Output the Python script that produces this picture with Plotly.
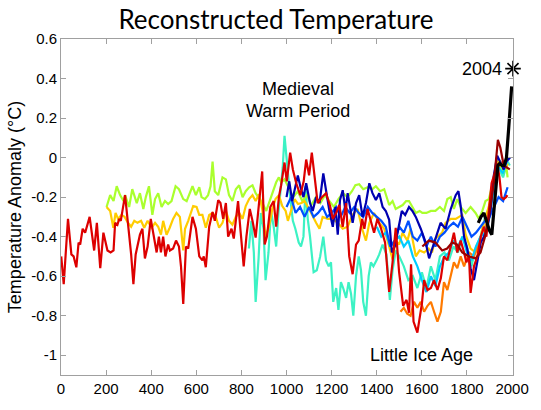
import plotly.graph_objects as go

# ---------------- data ----------------
red_years = [1, 12, 31, 46, 56, 68, 78, 85, 96, 107, 127, 134, 147, 159, 174, 188, 206, 220, 233, 240,
             250, 258, 265, 284, 296, 311, 321, 331, 350, 361, 372, 384, 398, 412, 424, 434, 443, 453, 463, 475,
             483, 497, 510, 523, 532, 542, 554, 564, 583, 598, 613, 627, 633, 642, 657, 672, 682, 697, 707, 719,
             731, 741, 756, 766, 785, 796, 810, 822, 837, 849, 863, 878, 892, 903, 913, 928, 943, 954, 966, 976,
             991, 1001, 1016, 1028, 1043, 1061, 1076, 1087, 1100, 1112, 1124, 1138, 1157, 1175, 1193, 1205, 1220, 1234, 1249, 1264,
             1278, 1293, 1308, 1320, 1335, 1345, 1359, 1374, 1388, 1403, 1418, 1437, 1455, 1470, 1484, 1499, 1517, 1532, 1543, 1552,
             1563, 1580, 1600, 1610, 1625, 1640, 1654, 1669, 1684, 1698, 1713, 1728, 1742, 1757, 1772, 1787, 1797, 1809, 1816, 1831,
             1846, 1861, 1875, 1886, 1897, 1909, 1923, 1934, 1944, 1953, 1963, 1974, 1979]
red_vals = [-0.50, -0.64, -0.31, -0.49, -0.50, -0.555, -0.43, -0.44, -0.36, -0.38, -0.30, -0.36, -0.47, -0.33, -0.56, -0.38, -0.47, -0.48, -0.47, -0.33,
            -0.34, -0.31, -0.32, -0.19, -0.31, -0.49, -0.64, -0.49, -0.39, -0.36, -0.51, -0.45, -0.31, -0.40, -0.48, -0.40, -0.48, -0.40, -0.50, -0.44,
            -0.47, -0.46, -0.42, -0.45, -0.55, -0.74, -0.45, -0.46, -0.30, -0.36, -0.50, -0.52, -0.50, -0.555, -0.35, -0.275, -0.32, -0.215, -0.23, -0.31,
            -0.23, -0.40, -0.36, -0.41, -0.22, -0.37, -0.55, -0.40, -0.26, -0.32, -0.405, -0.23, -0.07, -0.44, -0.40, -0.25, -0.22, -0.35, -0.20, -0.14,
            -0.025, -0.12, 0.025, -0.06, -0.13, -0.19, -0.12, -0.01, -0.09, 0.025, -0.09, -0.23, -0.20, -0.18, -0.245, -0.31, -0.28, -0.24, -0.35, -0.23,
            -0.50, -0.59, -0.44, -0.42, -0.31, -0.36, -0.26, -0.33, -0.38, -0.31, -0.355, -0.43, -0.68, -0.53, -0.355, -0.58, -0.75, -0.72, -0.785, -0.54,
            -0.83, -0.885, -0.74, -0.62, -0.67, -0.66, -0.62, -0.67, -0.61, -0.50, -0.52, -0.45, -0.38, -0.48, -0.42, -0.48, -0.53, -0.50, -0.685, -0.55,
            -0.50, -0.40, -0.35, -0.40, -0.28, -0.13, -0.08, -0.03, -0.10, -0.20, -0.21, -0.20, -0.19]

ygreen_years = [202, 218, 233, 247, 262, 277, 284, 302, 316, 336, 350, 365, 376, 390, 405, 417, 431, 446, 461, 475,
                490, 508, 523, 542, 557, 568, 583, 598, 613, 623, 638, 652, 663, 672, 682, 697, 716, 731, 745, 760,
                775, 790, 805, 819, 834, 849, 863, 881, 895, 910, 925, 940, 954, 966, 976, 991, 1010, 1030, 1050, 1070,
                1090, 1110, 1130, 1150, 1170, 1190, 1210, 1230, 1250, 1270, 1290, 1305, 1322, 1340, 1360, 1380, 1396, 1415, 1433, 1455,
                1470, 1484, 1499, 1515, 1530, 1543, 1558, 1573, 1590, 1602, 1620, 1640, 1660, 1680, 1698, 1713, 1728, 1742, 1757, 1772,
                1794, 1816, 1838, 1853, 1868, 1882, 1897, 1912, 1930, 1945, 1960, 1975, 1980]
ygreen_vals = [-0.25, -0.19, -0.22, -0.145, -0.19, -0.22, -0.19, -0.25, -0.16, -0.23, -0.18, -0.26, -0.20, -0.145, -0.29, -0.21, -0.18, -0.25, -0.22, -0.235,
               -0.22, -0.145, -0.16, -0.21, -0.22, -0.19, -0.145, -0.19, -0.15, -0.20, -0.21, -0.19, -0.145, -0.02, -0.17, -0.19, -0.10, -0.11, -0.19, -0.22,
               -0.16, -0.14, -0.20, -0.17, -0.15, -0.14, -0.18, -0.21, -0.235, -0.27, -0.22, -0.18, -0.125, -0.10, -0.125, -0.11, -0.15, -0.20, -0.17, -0.22,
               -0.19, -0.24, -0.20, -0.23, -0.19, -0.22, -0.25, -0.21, -0.18, -0.20, -0.17, -0.14, -0.135, -0.16, -0.15, -0.16, -0.145, -0.17, -0.16, -0.24,
               -0.22, -0.26, -0.25, -0.24, -0.22, -0.22, -0.25, -0.28, -0.27, -0.28, -0.28, -0.27, -0.27, -0.25, -0.27, -0.21, -0.20, -0.26, -0.21, -0.25,
               -0.28, -0.25, -0.28, -0.31, -0.27, -0.22, -0.21, -0.14, -0.08, -0.03, -0.08, -0.05, -0.10]

yellow_years = [202, 218, 232, 242, 253, 268, 282, 297, 311, 325, 339, 355, 369, 384, 402, 417, 431, 443, 453, 468,
                482, 497, 512, 527, 542, 550, 564, 586, 601, 613, 627, 642, 657, 672, 686, 701, 716, 731, 745, 760,
                775, 790, 805, 819, 834, 849, 863, 878, 892, 907, 922, 937, 951, 966, 981, 996, 1006, 1021, 1036, 1051,
                1066, 1080, 1095, 1109, 1131, 1146, 1160, 1183, 1205, 1227, 1249, 1271, 1293, 1315, 1335, 1352, 1367, 1388, 1411, 1433,
                1455, 1470, 1484, 1499, 1514, 1536, 1550, 1573, 1590, 1610, 1630, 1645, 1660, 1690, 1705, 1728, 1750, 1779, 1794, 1816,
                1838, 1853, 1868, 1882, 1897, 1912, 1927, 1941, 1956, 1974, 1980]
yellow_vals = [-0.25, -0.27, -0.355, -0.28, -0.31, -0.29, -0.30, -0.33, -0.35, -0.32, -0.33, -0.32, -0.355, -0.32, -0.355, -0.33, -0.35, -0.39, -0.32, -0.39,
               -0.355, -0.31, -0.28, -0.30, -0.47, -0.36, -0.32, -0.245, -0.25, -0.29, -0.29, -0.355, -0.29, -0.28, -0.30, -0.355, -0.33, -0.27, -0.32, -0.34,
               -0.30, -0.28, -0.31, -0.245, -0.21, -0.19, -0.22, -0.185, -0.26, -0.40, -0.35, -0.26, -0.21, -0.19, -0.245, -0.27, -0.32, -0.26, -0.21, -0.235,
               -0.23, -0.22, -0.25, -0.28, -0.33, -0.36, -0.30, -0.31, -0.31, -0.33, -0.36, -0.35, -0.29, -0.26, -0.36, -0.42, -0.33, -0.28, -0.33, -0.36,
               -0.45, -0.515, -0.42, -0.44, -0.38, -0.42, -0.36, -0.50, -0.47, -0.48, -0.46, -0.48, -0.41, -0.38, -0.33, -0.31, -0.31, -0.29, -0.39, -0.46,
               -0.48, -0.45, -0.36, -0.31, -0.245, -0.16, -0.06, -0.01, -0.035, -0.05, -0.03]

aqua_years = [833, 844, 855, 863, 876, 886, 898, 907, 920, 931, 943, 954, 964, 975, 983, 991, 1001, 1016, 1028, 1039,
              1054, 1064, 1075, 1084, 1094, 1104, 1120, 1134, 1149, 1163, 1175, 1187, 1197, 1207, 1220, 1230, 1241, 1251, 1264, 1275,
              1286, 1296, 1308, 1320, 1330, 1340, 1352, 1364, 1374, 1385, 1399, 1411, 1426, 1443, 1458, 1470, 1484, 1500, 1520, 1540,
              1560, 1580, 1600, 1620, 1640, 1660, 1680, 1700, 1720, 1740, 1760, 1780, 1800, 1820, 1840, 1860, 1880, 1900, 1920, 1940,
              1960, 1980, 1990]
aqua_vals = [-0.46, -0.32, -0.48, -0.73, -0.51, -0.28, -0.36, -0.62, -0.48, -0.27, -0.35, -0.45, -0.28, -0.16, -0.05, 0.11, -0.03, -0.20, -0.32, -0.36,
             -0.43, -0.45, -0.40, -0.145, -0.31, -0.40, -0.58, -0.57, -0.50, -0.40, -0.52, -0.55, -0.53, -0.73, -0.66, -0.77, -0.63, -0.66, -0.71, -0.63,
             -0.69, -0.80, -0.60, -0.50, -0.57, -0.73, -0.80, -0.60, -0.53, -0.55, -0.52, -0.49, -0.44, -0.49, -0.72, -0.57, -0.47, -0.50, -0.55, -0.62,
             -0.60, -0.66, -0.58, -0.66, -0.55, -0.62, -0.50, -0.48, -0.52, -0.45, -0.48, -0.40, -0.45, -0.55, -0.45, -0.40, -0.30, -0.25, -0.15, -0.05,
             -0.10, -0.02, -0.04]

dblue_years = [1000, 1012, 1025, 1037, 1050, 1062, 1075, 1087, 1104, 1116, 1131, 1146, 1163, 1175, 1190, 1205, 1217, 1227, 1237, 1249,
               1261, 1271, 1281, 1293, 1308, 1322, 1337, 1352, 1367, 1381, 1396, 1411, 1426, 1440, 1455, 1467, 1481, 1496, 1511, 1526,
               1543, 1558, 1573, 1595, 1617, 1632, 1646, 1660, 1683, 1705, 1728, 1750, 1762, 1772, 1787, 1801, 1816, 1831, 1846, 1861,
               1875, 1890, 1905, 1919, 1934, 1948, 1963, 1975, 1991]
dblue_vals = [-0.20, -0.12, -0.22, -0.15, -0.09, -0.15, -0.20, -0.13, -0.23, -0.27, -0.20, -0.23, -0.08, -0.165, -0.27, -0.35, -0.25, -0.39, -0.215, -0.165,
              -0.27, -0.18, -0.25, -0.33, -0.23, -0.19, -0.30, -0.23, -0.13, -0.18, -0.215, -0.18, -0.25, -0.27, -0.315, -0.48, -0.445, -0.35, -0.27, -0.29,
              -0.25, -0.27, -0.30, -0.36, -0.43, -0.51, -0.46, -0.40, -0.33, -0.36, -0.26, -0.19, -0.17, -0.245, -0.40, -0.46, -0.56, -0.62, -0.53, -0.43,
              -0.40, -0.36, -0.26, -0.09, 0.01, -0.02, -0.06, -0.02, 0.00]

blue_years = [1000, 1020, 1040, 1060, 1080, 1100, 1120, 1140, 1160, 1180, 1200, 1220, 1240, 1260, 1280, 1300, 1320, 1340, 1360, 1380,
              1400, 1420, 1440, 1460, 1480, 1500, 1520, 1540, 1560, 1580, 1600, 1620, 1640, 1660, 1680, 1700, 1720, 1740, 1760, 1780,
              1800, 1820, 1840, 1860, 1880, 1900, 1920, 1940, 1960, 1980]
blue_vals = [-0.25, -0.20, -0.28, -0.25, -0.30, -0.25, -0.30, -0.28, -0.25, -0.30, -0.28, -0.25, -0.30, -0.25, -0.28, -0.25, -0.28, -0.30, -0.25, -0.28,
             -0.30, -0.32, -0.35, -0.45, -0.42, -0.35, -0.38, -0.32, -0.40, -0.42, -0.38, -0.45, -0.40, -0.45, -0.40, -0.38, -0.35, -0.33, -0.35, -0.30,
             -0.35, -0.40, -0.38, -0.35, -0.32, -0.30, -0.25, -0.20, -0.22, -0.15]

cyan_years = [1400, 1420, 1440, 1460, 1480, 1500, 1520, 1540, 1560, 1580, 1600, 1620, 1640, 1660, 1680, 1700, 1720, 1740, 1760, 1780,
              1800, 1820, 1840, 1860, 1880, 1900, 1920, 1940, 1960, 1980]
cyan_vals = [-0.35, -0.40, -0.38, -0.45, -0.42, -0.40, -0.45, -0.42, -0.50, -0.55, -0.62, -0.68, -0.60, -0.65, -0.55, -0.50, -0.48, -0.42, -0.45, -0.40,
             -0.48, -0.52, -0.45, -0.40, -0.38, -0.30, -0.15, -0.05, -0.08, 0.00]

orange_years = [1505, 1520, 1535, 1550, 1565, 1580, 1595, 1610, 1625, 1640, 1654, 1669, 1684, 1698, 1713, 1728, 1742, 1757, 1772, 1787,
                1809, 1831, 1853, 1875, 1890, 1905, 1919, 1934, 1948, 1963, 1974]
orange_vals = [-0.78, -0.76, -0.79, -0.80, -0.73, -0.76, -0.73, -0.78, -0.75, -0.73, -0.78, -0.83, -0.78, -0.63, -0.67, -0.60, -0.53, -0.56, -0.50, -0.55,
               -0.48, -0.50, -0.43, -0.36, -0.33, -0.21, -0.13, -0.06, -0.02, -0.06, -0.04]

dred_years = [1602, 1631, 1660, 1690, 1712, 1734, 1757, 1779, 1809, 1838, 1860, 1880, 1897, 1919, 1937, 1948, 1963, 1975, 1990]
dred_vals = [-0.45, -0.42, -0.43, -0.47, -0.46, -0.43, -0.44, -0.48, -0.50, -0.51, -0.48, -0.40, -0.30, -0.13, 0.09, 0.05, -0.04, -0.05, -0.06]

black_years = [1850, 1862, 1875, 1888, 1900, 1910, 1920, 1930, 1937, 1945, 1955, 1965, 1975, 1985, 1992, 1998]
black_vals = [-0.33, -0.30, -0.28, -0.33, -0.37, -0.39, -0.26, -0.12, -0.04, -0.03, -0.04, -0.04, 0.00, 0.15, 0.26, 0.36]

star_year = [2004]
star_val = [0.45]

x_ticks = [0, 200, 400, 600, 800, 1000, 1200, 1400, 1600, 1800, 2000]
y_ticks = [-1, -0.8, -0.6, -0.4, -0.2, 0, 0.2, 0.4, 0.6]
y_tick_labels = ["-1", "-0.8", "-0.6", "-0.4", "-0.2", "0", "0.2", "0.4", "0.6"]

# ---------------- figure ----------------
series = [
    (aqua_years, aqua_vals, "#3cf2c4", 2.2),
    (ygreen_years, ygreen_vals, "#aaff2e", 2.2),
    (yellow_years, yellow_vals, "#ffcc00", 2.2),
    (orange_years, orange_vals, "#ff7a00", 2.2),
    (cyan_years, cyan_vals, "#00ccff", 2.2),
    (blue_years, blue_vals, "#0050ff", 2.2),
    (dblue_years, dblue_vals, "#0000b0", 2.2),
    (red_years, red_vals, "#dd0000", 2.2),
    (dred_years, dred_vals, "#9a0000", 2.2),
    (black_years, black_vals, "#000000", 3.2),
]

fig = go.Figure()
for xs, ys, col, w in series:
    fig.add_trace(go.Scatter(x=xs, y=ys, mode="lines", line=dict(color=col, width=w),
                             showlegend=False, hoverinfo="skip"))

fig.add_trace(go.Scatter(x=star_year, y=star_val, mode="markers",
                         marker=dict(symbol="asterisk-open", size=13, color="black",
                                     line=dict(color="black", width=1.6)),
                         cliponaxis=False, showlegend=False, hoverinfo="skip"))

label_font = dict(family="Liberation Sans, Arial, sans-serif", size=18, color="black")
fig.add_annotation(x=1050, y=0.345, text="Medieval", showarrow=False, font=label_font,
                   xanchor="center", yanchor="middle")
fig.add_annotation(x=1050, y=0.238, text="Warm Period", showarrow=False, font=label_font,
                   xanchor="center", yanchor="middle")
fig.add_annotation(x=1597, y=-1.0, text="Little Ice Age", showarrow=False, font=label_font,
                   xanchor="center", yanchor="middle")
fig.add_annotation(x=2004, y=0.45, text="2004", showarrow=False, font=label_font,
                   xanchor="right", yanchor="middle", xshift=-9)

axis_common = dict(showgrid=False, zeroline=False, showline=True, linecolor="#a0a0a0", linewidth=1,
                   mirror="ticks", ticks="inside", ticklen=5, tickcolor="#a0a0a0", tickwidth=1,
                   tickfont=dict(family="Liberation Sans, Arial, sans-serif", size=15, color="black"))

fig.update_layout(
    width=541, height=410,
    paper_bgcolor="white", plot_bgcolor="white",
    margin=dict(l=61, r=28, t=39, b=35),
    title=dict(text="Reconstructed Temperature", x=0.51, xanchor="center", y=0.952, yanchor="middle",
               yref="container", font=dict(family="Lato, Open Sans, sans-serif", size=26, color="black")),
    xaxis=dict(range=[0, 2004], tickvals=x_ticks, **axis_common),
    yaxis=dict(range=[-1.1, 0.6], tickvals=y_ticks, ticktext=y_tick_labels,
               title=dict(text="Temperature Anomaly (°C)", standoff=4,
                          font=dict(family="Liberation Sans, Arial, sans-serif", size=18, color="black")),
               **axis_common),
)

fig.write_html("out.html", config={"displayModeBar": False},
               post_script="document.body.style.margin='0';")
